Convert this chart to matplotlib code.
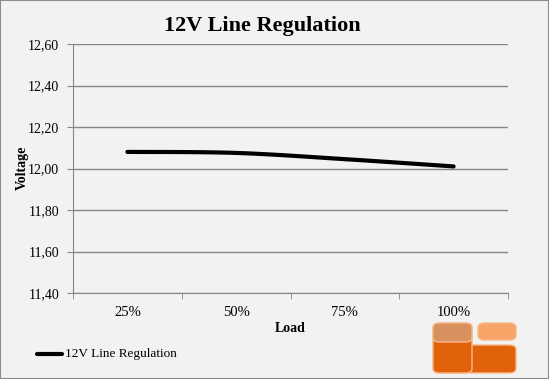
import matplotlib.pyplot as plt
from matplotlib.patches import FancyBboxPatch, Rectangle
from matplotlib.lines import Line2D
import numpy as np

# dane
loads = ['25%', '50%', '75%', '100%']
voltage = [12.08, 12.075, 12.045, 12.01]
y_ticks = [11.40, 11.60, 11.80, 12.00, 12.20, 12.40, 12.60]

W, H = 549, 379
bg = '#f2f2f2'
grid_c = '#868686'
serif = ['Liberation Serif', 'DejaVu Serif']

fig = plt.figure(figsize=(W / 100, H / 100), dpi=100, facecolor=bg)
ax = fig.add_axes([73 / W, 1 - 293 / H, (508 - 73) / W, (293 - 44) / H])
ax.set_facecolor(bg)

# wygladzona linia (Catmull-Rom) jak w Excelu
x = np.arange(len(voltage), dtype=float)
y = np.array(voltage)
px = np.concatenate([[x[0]], x, [x[-1]]])
py = np.concatenate([[y[0]], y, [y[-1]]])
xs, ys = [], []
t = np.linspace(0, 1, 40)
for i in range(1, len(px) - 2):
    for arr, out in ((px, xs), (py, ys)):
        p0, p1, p2, p3 = arr[i - 1], arr[i], arr[i + 1], arr[i + 2]
        out.extend(0.5 * ((2 * p1) + (-p0 + p2) * t
                          + (2 * p0 - 5 * p1 + 4 * p2 - p3) * t ** 2
                          + (-p0 + 3 * p1 - 3 * p2 + p3) * t ** 3))
ax.plot(xs, ys, color='black', lw=3, solid_capstyle='round', zorder=3)

ax.set_xlim(-0.5, len(loads) - 0.5)
ax.set_ylim(y_ticks[0], y_ticks[-1])
ax.set_yticks(y_ticks)
ax.set_yticklabels([f'{v:.2f}'.replace('.', ',') for v in y_ticks],
                   family=serif, fontsize=10)
ax.set_xticks(x)
ax.set_xticklabels(loads, family=serif, fontsize=10.5)
ax.set_xticks(np.arange(len(loads) + 1) - 0.5, minor=True)
ax.tick_params(axis='x', which='major', length=0, pad=9)
ax.tick_params(axis='x', which='minor', length=4, color=grid_c)
ax.tick_params(axis='y', length=4, color=grid_c, pad=6)
ax.grid(axis='y', color=grid_c, lw=1)
for s in ['top', 'right']:
    ax.spines[s].set_visible(False)
for s in ['left', 'bottom']:
    ax.spines[s].set_color(grid_c)

fig.text(262 / W, 1 - 26 / H, '12V Line Regulation', ha='center', va='center',
         family=serif, fontsize=16, fontweight='bold')
fig.text(22 / W, 1 - 168 / H, 'Voltage', ha='center', va='center', rotation=90,
         family=serif, fontsize=10, fontweight='bold')
fig.text(290 / W, 1 - 329 / H, 'Load', ha='center', va='center',
         family=serif, fontsize=10, fontweight='bold')

# legenda
fig.add_artist(Line2D([37 / W, 62 / W], [1 - 354 / H] * 2, color='black', lw=3,
                      solid_capstyle='round', transform=fig.transFigure))
fig.text(65 / W, 1 - 354 / H, '12V Line Regulation', ha='left', va='center',
         family=serif, fontsize=9.5)

# logo (przyblizone)
def box(x0, y0, x1, y1, fc):
    fig.add_artist(FancyBboxPatch((x0 / W, 1 - y1 / H), (x1 - x0) / W, (y1 - y0) / H,
                                  boxstyle='round,pad=0,rounding_size=0.012',
                                  fc=fc, ec='#f7b98a', lw=1,
                                  transform=fig.transFigure))
box(433, 345, 516, 373, '#e2620c')
box(433, 323, 472, 373, '#e2620c')
box(433, 323, 472, 342, '#d9905f')
box(478, 323, 516, 340, '#f7a468')

fig.add_artist(Rectangle((0, 0), 1, 1, fill=False, ec='#8c8c8c', lw=1.5,
                         transform=fig.transFigure))

fig.savefig('out.png', dpi=100, facecolor=bg)
